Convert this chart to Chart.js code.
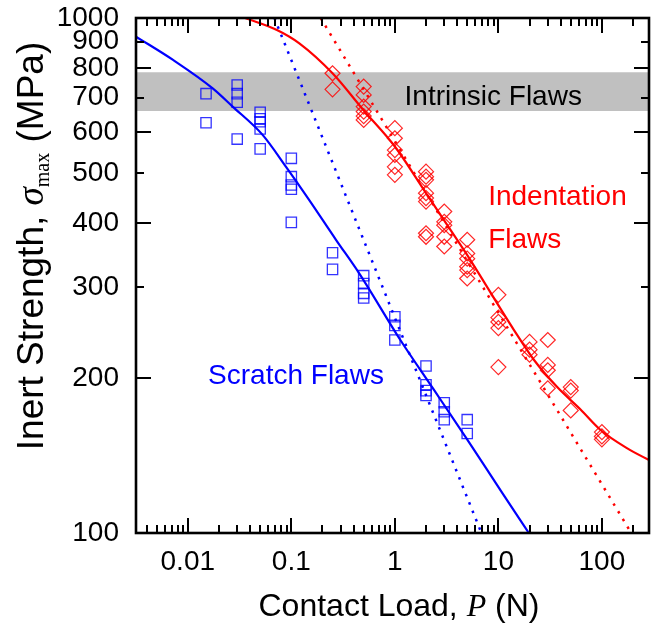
<!DOCTYPE html>
<html>
<head>
<meta charset="utf-8">
<script src="https://cdn.jsdelivr.net/npm/chart.js@4.4.0/dist/chart.umd.min.js"></script>
<style>
  html, body { margin: 0; padding: 0; background: #fff; }
  #wrap { width: 659px; height: 625px; }
</style>
</head>
<body>
<div id="wrap"><canvas id="chart"></canvas></div>
<script>
// scratch flaws (blue squares)
const scratchLoad = [0.015, 0.015, 0.03, 0.03, 0.03, 0.03, 0.05, 0.05, 0.05, 0.05, 0.05,
    0.1, 0.1, 0.1, 0.1, 0.1, 0.25, 0.25, 0.5, 0.5, 0.5, 0.5, 1, 1, 1, 2, 2, 2, 2, 3, 3, 3, 5, 5];
const scratchStrength = [713, 626, 741, 713, 686, 582, 656, 637, 629, 609, 557,
    534, 492, 474, 465, 401, 350, 325, 316, 305, 292, 286, 263, 253, 237, 211, 194, 189, 185, 179, 172, 166, 166, 156];

// indentation flaws (red diamonds)
const indentLoad = [0.25, 0.25, 0.5, 0.5, 0.5, 0.5, 0.5, 0.5, 1, 1, 1, 1, 1, 1,
    2, 2, 2, 2, 2, 2, 2, 2, 3, 3, 3, 3, 3, 5, 5, 5, 5, 5, 5, 10, 10, 10, 10, 10,
    20, 20, 20, 30, 30, 30, 30, 50, 50, 50, 100, 100, 100];
const indentStrength = [781, 727, 736, 709, 673, 658, 645, 634, 611, 584, 554, 542, 514, 496,
    503, 492, 485, 457, 447, 440, 382, 376, 421, 402, 396, 376, 360, 371, 349, 341, 329, 324, 312,
    290, 262, 257, 250, 210, 235, 227, 222, 237, 212, 207, 191, 192, 189, 173, 157, 154, 152];

// fitted curves (solid)
const scratchFitLoad = [0.00316, 0.0072, 0.0174, 0.0271, 0.0528, 0.0889, 0.149, 0.27, 0.454, 1.13, 2.37, 4.99, 10.5, 19.7];
const scratchFitStrength = [920, 829, 730, 673, 593, 514, 443, 371, 319, 237, 190, 152, 121, 100];
const indentFitLoad = [0.0358, 0.0726, 0.1195, 0.25, 0.496, 1, 2, 2.96, 4.88, 14.1, 22, 37, 62.5, 97, 176, 296];
const indentFitStrength = [1000, 948, 893, 781, 663, 563, 457, 406, 349, 248, 217, 192, 173.5, 158.5, 146, 138];

// limiting slopes (dotted)
const scratchLimitLoad = [0.0686, 6.86];
const scratchLimitStrength = [1000, 100];
const indentLimitLoad = [0.192, 192];
const indentLimitStrength = [1000, 100];

// intrinsic flaw band
const bandLoad = [0.00316, 285];
const bandTop = [785, 785];
const bandBottom = [660, 660];

// axes
const xMin = 0.00316, xMax = 285;
const yMin = 100, yMax = 1000;
const xLabelValues = [0.01, 0.1, 1, 10, 100];
const xTickLabels = ['0.01', '0.1', '1', '10', '100'];
const xTickValues = [0.004, 0.005, 0.006, 0.007, 0.008, 0.009, 0.01,
    0.02, 0.03, 0.04, 0.05, 0.06, 0.07, 0.08, 0.09, 0.1,
    0.2, 0.3, 0.4, 0.5, 0.6, 0.7, 0.8, 0.9, 1,
    2, 3, 4, 5, 6, 7, 8, 9, 10,
    20, 30, 40, 50, 60, 70, 80, 90, 100, 200];
const yTickValues = [100, 200, 300, 400, 500, 600, 700, 800, 900, 1000];
const yLongTicks = [200, 400, 600, 800, 1000];

const notes = [
    { text: 'Intrinsic Flaws', load: 1.24, strength: 678, color: '#000' },
    { text: 'Indentation', load: 7.97, strength: 433, color: '#ff0000' },
    { text: 'Flaws', load: 7.97, strength: 357, color: '#ff0000' },
    { text: 'Scratch Flaws', load: 0.0157, strength: 195, color: '#0000ff' }
];

const SANS = "'Liberation Sans', Arial, sans-serif";
const SERIF = "'Liberation Serif', 'Times New Roman', serif";

function pts(xs, ys) {
    return xs.map((x, i) => ({ x: x, y: ys[i] }));
}

function same(a, b) {
    return Math.abs(Math.log10(a) - Math.log10(b)) < 1e-6;
}

function drawRuns(ctx, runs, cx, baseY) {
    let total = 0;
    runs.forEach(r => { ctx.font = r[1]; total += ctx.measureText(r[0]).width; });
    let x = cx - total / 2;
    runs.forEach(r => {
        ctx.font = r[1];
        ctx.fillText(r[0], x, baseY + (r[2] || 0));
        x += ctx.measureText(r[0]).width;
    });
}

const framePlugin = {
    id: 'frame',
    afterDraw(chart) {
        const ctx = chart.ctx;
        const ca = chart.chartArea;
        const xs = chart.scales.x, ys = chart.scales.y;
        ctx.save();
        ctx.strokeStyle = '#000';
        ctx.lineWidth = 2;
        ctx.beginPath();
        xTickValues.forEach(v => {
            const px = Math.round(xs.getPixelForValue(v));
            const len = xLabelValues.some(d => same(d, v)) ? 15 : 8;
            ctx.moveTo(px, ca.bottom); ctx.lineTo(px, ca.bottom - len);
            ctx.moveTo(px, ca.top); ctx.lineTo(px, ca.top + len);
        });
        yTickValues.forEach(v => {
            const py = Math.round(ys.getPixelForValue(v));
            const len = yLongTicks.includes(v) ? 15 : 8;
            ctx.moveTo(ca.left, py); ctx.lineTo(ca.left + len, py);
            ctx.moveTo(ca.right, py); ctx.lineTo(ca.right - len, py);
        });
        ctx.stroke();
        ctx.lineWidth = 2.6;
        ctx.strokeRect(ca.left, ca.top, ca.right - ca.left, ca.bottom - ca.top);

        // annotations
        ctx.textAlign = 'left';
        ctx.textBaseline = 'alphabetic';
        ctx.font = '28px ' + SANS;
        notes.forEach(n => {
            ctx.fillStyle = n.color;
            ctx.fillText(n.text, xs.getPixelForValue(n.load), ys.getPixelForValue(n.strength));
        });

        // axis titles
        ctx.fillStyle = '#000';
        drawRuns(ctx, [
            ['Contact Load, ', '32px ' + SANS],
            ['P', 'italic 32px ' + SERIF],
            [' (N)', '32px ' + SANS]
        ], 399, 616);

        ctx.translate(43, 246);
        ctx.rotate(-Math.PI / 2);
        drawRuns(ctx, [
            ['Inert Strength, ', '37px ' + SANS],
            ['\u03C3', 'italic 37px ' + SERIF],
            ['max', '20px ' + SERIF, 6],
            [' (MPa)', '37px ' + SANS]
        ], 0, 0);
        ctx.restore();
    }
};

new Chart(document.getElementById('chart'), {
    type: 'scatter',
    data: {
        datasets: [
            {
                data: pts(scratchLoad, scratchStrength),
                pointStyle: 'rect', pointRadius: 7.3, borderWidth: 1.3,
                borderColor: 'rgba(0,0,255,0.8)', backgroundColor: 'rgba(0,0,0,0)',
                order: 0
            },
            {
                data: pts(indentLoad, indentStrength),
                pointStyle: 'rectRot', pointRadius: 7.5, borderWidth: 1.2,
                borderColor: 'rgba(255,0,0,0.85)', backgroundColor: 'rgba(0,0,0,0)',
                order: 0
            },
            {
                data: pts(scratchFitLoad, scratchFitStrength),
                showLine: true, pointRadius: 0, borderColor: '#0000ff', borderWidth: 2.2,
                cubicInterpolationMode: 'monotone', order: 1
            },
            {
                data: pts(indentFitLoad, indentFitStrength),
                showLine: true, pointRadius: 0, borderColor: '#ff0000', borderWidth: 2.2,
                cubicInterpolationMode: 'monotone', order: 1
            },
            {
                data: pts(scratchLimitLoad, scratchLimitStrength),
                showLine: true, pointRadius: 0, borderColor: '#0000ff', borderWidth: 2.5,
                borderDash: [2.5, 6.5], order: 1
            },
            {
                data: pts(indentLimitLoad, indentLimitStrength),
                showLine: true, pointRadius: 0, borderColor: '#ff0000', borderWidth: 2.5,
                borderDash: [2.5, 6.5], order: 1
            },
            {
                data: pts(bandLoad, bandTop),
                showLine: true, pointRadius: 0, borderWidth: 0, borderColor: 'rgba(0,0,0,0)',
                backgroundColor: '#c0c0c0', fill: '+1', order: 5
            },
            {
                data: pts(bandLoad, bandBottom),
                showLine: true, pointRadius: 0, borderWidth: 0, borderColor: 'rgba(0,0,0,0)',
                fill: false, order: 6
            }
        ]
    },
    options: {
        responsive: true,
        maintainAspectRatio: false,
        animation: false,
        layout: { padding: { top: 18, right: 10, left: 0, bottom: 0 } },
        plugins: {
            legend: { display: false },
            tooltip: { enabled: false }
        },
        scales: {
            x: {
                type: 'logarithmic',
                min: xMin,
                max: xMax,
                afterBuildTicks: s => { s.ticks = xTickValues.map(v => ({ value: v })); },
                afterFit: s => { s.height = 92; s.paddingLeft = 0; s.paddingRight = 0; },
                grid: { display: false, drawTicks: false },
                border: { display: false },
                ticks: {
                    autoSkip: false, maxRotation: 0, padding: 12, color: '#000',
                    font: { family: SANS, size: 28 },
                    callback: v => {
                        const i = xLabelValues.findIndex(d => same(d, v));
                        return i >= 0 ? xTickLabels[i] : '';
                    }
                }
            },
            y: {
                type: 'logarithmic',
                min: yMin,
                max: yMax,
                afterBuildTicks: s => { s.ticks = yTickValues.map(v => ({ value: v })); },
                afterFit: s => { s.width = 136; s.paddingTop = 0; s.paddingBottom = 0; },
                grid: { display: false, drawTicks: false },
                border: { display: false },
                ticks: {
                    autoSkip: false, padding: 17, color: '#000',
                    font: { family: SANS, size: 28 },
                    callback: v => String(v)
                }
            }
        }
    },
    plugins: [framePlugin]
});
</script>
</body>
</html>
